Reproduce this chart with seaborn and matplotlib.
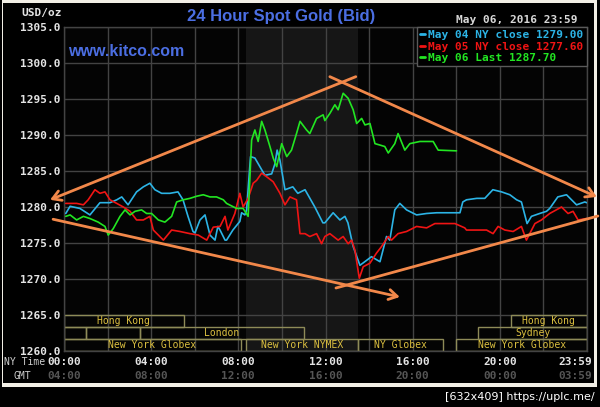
import matplotlib
matplotlib.use("Agg")
import matplotlib.pyplot as plt
import matplotlib.transforms as mtransforms
from matplotlib.patches import Rectangle
from matplotlib.ticker import MultipleLocator, FormatStrFormatter
import numpy as np
import pandas as pd
import seaborn as sns

# --- price series (hour of NY day, USD/oz) ---
may04_hours = [0.08, 0.28, 0.73, 1.19, 1.65, 2.11, 2.42, 2.65, 2.94, 3.33, 3.64, 3.94, 4.17, 4.48,
               4.86, 5.23, 5.46, 5.69, 5.92, 6.01, 6.24, 6.47, 6.70, 6.93, 7.06, 7.16, 7.39, 7.46,
               7.75, 8.07, 8.15, 8.30, 8.38, 8.56, 8.76, 8.99, 9.22, 9.53, 9.68, 9.78, 9.91, 10.14,
               10.50, 10.73, 11.06, 11.51, 11.88, 11.97, 12.35, 12.66, 12.89, 13.03, 13.27, 13.58,
               13.89, 14.11, 14.50, 14.80, 14.95, 15.18, 15.41, 15.72, 16.18, 16.64, 17.10, 18.17,
               18.30, 18.47, 18.94, 19.31, 19.68, 20.08, 20.46, 20.77, 20.99, 21.25, 21.45, 21.83,
               22.14, 22.29, 22.66, 23.06, 23.29, 23.52, 23.90, 23.98]
may04_price = [1279.1, 1280.1, 1279.8, 1278.9, 1280.6, 1280.6, 1281.0, 1281.4, 1280.3, 1282.1, 1282.8,
               1283.3, 1282.4, 1281.9, 1281.9, 1282.1, 1281.0, 1278.7, 1276.6, 1276.4, 1278.2, 1278.9,
               1276.1, 1275.4, 1277.3, 1276.8, 1275.4, 1275.4, 1276.8, 1278.0, 1279.2, 1278.9, 1279.6,
               1287.0, 1286.8, 1285.6, 1284.4, 1284.6, 1286.0, 1287.9, 1286.5, 1282.4, 1282.8, 1281.9,
               1282.4, 1280.0, 1277.8, 1277.8, 1279.2, 1278.2, 1278.7, 1277.8, 1274.5, 1271.9, 1272.6,
               1273.1, 1272.4, 1275.9, 1275.4, 1279.6, 1280.5, 1279.6, 1278.9, 1279.1, 1279.2, 1279.2,
               1280.7, 1281.0, 1281.2, 1281.2, 1282.4, 1282.1, 1281.7, 1281.0, 1280.7, 1277.7, 1278.7,
               1279.1, 1279.4, 1279.8, 1281.4, 1281.7, 1281.0, 1280.3, 1280.7, 1280.6]

may05_hours = [0.08, 0.58, 0.89, 1.11, 1.42, 1.65, 1.88, 2.11, 2.42, 2.72, 3.03, 3.33, 3.64, 3.94,
               4.10, 4.56, 4.94, 5.32, 5.78, 6.16, 6.55, 6.85, 7.16, 7.39, 7.52, 7.84, 8.07, 8.22,
               8.45, 8.68, 8.84, 9.07, 9.30, 9.60, 9.91, 10.14, 10.37, 10.67, 10.83, 11.06, 11.28,
               11.59, 11.82, 11.97, 12.20, 12.58, 12.81, 13.04, 13.20, 13.35, 13.55, 13.73, 14.04,
               14.34, 14.57, 14.88, 15.03, 15.33, 15.72, 16.18, 16.64, 17.02, 17.94, 18.39, 18.47,
               18.93, 19.39, 19.69, 19.92, 20.23, 20.61, 20.99, 21.22, 21.61, 21.91, 22.29, 22.83,
               23.13, 23.36, 23.59, 23.98]
may05_price = [1280.5, 1280.5, 1280.3, 1281.0, 1282.4, 1281.9, 1282.1, 1281.0, 1280.5, 1280.0, 1279.4,
               1278.2, 1278.2, 1278.7, 1276.8, 1275.4, 1276.8, 1276.6, 1276.3, 1276.1, 1275.4, 1277.2,
               1277.3, 1278.7, 1276.8, 1279.1, 1281.9, 1280.0, 1281.2, 1283.3, 1283.7, 1284.7, 1284.2,
               1283.5, 1281.9, 1280.3, 1281.4, 1281.0, 1276.3, 1276.3, 1275.9, 1276.3, 1274.9, 1275.9,
               1276.3, 1275.4, 1275.9, 1274.9, 1275.4, 1274.0, 1270.1, 1271.7, 1272.2, 1273.6, 1274.5,
               1275.9, 1275.4, 1276.3, 1276.6, 1277.3, 1277.1, 1277.7, 1277.7, 1277.1, 1276.8, 1276.8,
               1276.8, 1276.3, 1277.3, 1276.8, 1276.6, 1277.3, 1275.4, 1277.7, 1278.2, 1279.1, 1280.0,
               1279.1, 1279.4, 1278.2, 1278.4]

may06_hours = [0.08, 0.28, 0.58, 0.89, 1.19, 1.57, 1.88, 2.03, 2.26, 2.57, 2.80, 3.03, 3.26, 3.56,
               3.79, 4.02, 4.33, 4.63, 4.94, 5.17, 5.47, 5.78, 6.09, 6.39, 6.70, 7.00, 7.31, 7.46,
               7.92, 8.22, 8.45, 8.61, 8.76, 8.91, 9.07, 9.22, 9.45, 9.60, 9.76, 9.99, 10.22, 10.44,
               10.67, 10.83, 11.13, 11.28, 11.59, 11.89, 11.97, 12.20, 12.43, 12.58, 12.81, 13.04,
               13.27, 13.43, 13.66, 13.81, 14.04, 14.27, 14.50, 14.72, 14.88, 15.18, 15.33, 15.64,
               15.87, 16.33, 16.94, 17.17, 18.01]
may06_price = [1278.7, 1278.9, 1278.2, 1278.7, 1278.4, 1277.9, 1277.3, 1276.1, 1277.0, 1278.7, 1279.6,
               1278.9, 1279.4, 1279.6, 1279.1, 1279.1, 1278.2, 1277.9, 1278.7, 1280.7, 1281.0, 1281.2,
               1281.5, 1281.7, 1281.4, 1281.4, 1281.0, 1280.5, 1279.8, 1279.8, 1278.7, 1289.3, 1290.7,
               1289.1, 1291.9, 1290.7, 1288.4, 1286.8, 1285.6, 1288.8, 1287.0, 1287.9, 1290.2, 1291.9,
               1290.7, 1290.2, 1292.3, 1292.8, 1292.0, 1293.0, 1294.2, 1293.5, 1295.8, 1295.1, 1293.5,
               1291.6, 1292.3, 1291.4, 1291.6, 1288.8, 1288.6, 1288.4, 1287.5, 1288.8, 1290.2, 1287.9,
               1288.8, 1289.1, 1289.1, 1287.9, 1287.8]

series_labels = ["May 04 NY close 1279.00", "May 05 NY close 1277.60", "May 06 Last 1287.70"]
series_colors = ["#2cb4e6", "#f01414", "#22e622"]

# --- trading sessions (row 0 = top) ---
session_row = [0, 0, 1, 1, 1, 1, 2, 2, 2, 2]
session_start = [0, 20.5, 0, 1, 3.5, 19, 0, 8.33, 13.5, 18]
session_end = [5.5, 24, 1, 3.5, 11, 24, 8.1, 13.5, 17.4, 24]
session_name = ["Hong Kong", "Hong Kong", "", "", "London", "Sydney",
                "New York Globex", "New York NYMEX", "NY Globex", "New York Globex"]
nymex_open, nymex_close = 8.33, 13.5

# --- hand-drawn trend lines: (start hour, start price, end hour, end price, arrow) ---
trend_start_x = [13.39, 12.20, -0.50, 12.48]
trend_start_y = [1298.1, 1298.1, 1278.3, 1268.75]
trend_end_x = [-0.64, 24.45, 15.41, 24.50]
trend_end_y = [1281.0, 1281.4, 1267.5, 1278.75]
trend_arrow = [True, True, True, False]

tick_hours = [0, 4, 8, 12, 16, 20, 24]
ny_labels = ["00:00", "04:00", "08:00", "12:00", "16:00", "20:00", "23:59"]
gmt_labels = ["04:00", "08:00", "12:00", "16:00", "20:00", "00:00", "03:59"]

W, H = 600, 407
MONO = "DejaVu Sans Mono"
GRID = "#434343"

sns.set_theme(style="dark")
plt.rcParams["font.family"] = ["DejaVu Sans"]

fig = plt.figure(figsize=(6, 4.07), dpi=100, facecolor="black")
fig.patches.append(Rectangle((2 / W, 1 - 387 / H), 595 / W, 387 / H, transform=fig.transFigure,
                             facecolor="#f2efe6", edgecolor="none", zorder=-3))
fig.patches.append(Rectangle((3 / W, 1 - 383 / H), 591 / W, 380 / H, transform=fig.transFigure,
                             facecolor="black", edgecolor="none", zorder=-2))

ax = fig.add_axes([64 / W, 1 - 351 / H, 523 / W, 324 / H])
ax.set_facecolor("#040404")
ax.axvspan(nymex_open, nymex_close, color="#161616", zorder=0, lw=0)

frames = []
for lab, hrs, prc in zip(series_labels, [may04_hours, may05_hours, may06_hours],
                         [may04_price, may05_price, may06_price]):
    frames.append(pd.DataFrame({"hour": hrs, "price": prc, "series": lab}))
df = pd.concat(frames, ignore_index=True)

sns.lineplot(data=df, x="hour", y="price", hue="series", hue_order=series_labels,
             palette=dict(zip(series_labels, series_colors)), estimator=None, sort=False,
             linewidth=1.2, ax=ax, zorder=3)

ax.set_xlim(0, 24)
ax.set_ylim(1260, 1305)
ax.set_xlabel("")
ax.set_ylabel("")

ax.xaxis.set_major_locator(MultipleLocator(4))
ax.xaxis.set_minor_locator(MultipleLocator(2))
ax.yaxis.set_major_locator(MultipleLocator(5))
ax.yaxis.set_major_formatter(FormatStrFormatter("%.1f"))
ax.grid(which="both", color=GRID, linewidth=1.0, zorder=1)
ax.set_axisbelow(True)
for sp in ax.spines.values():
    sp.set_color(GRID)
    sp.set_linewidth(1.0)

ax.set_xticks(tick_hours)
ax.set_xticklabels(ny_labels)
ax.tick_params(axis="both", which="both", length=0)
ax.tick_params(axis="y", pad=2.5, labelsize=8, labelcolor="#e4e4e4")
ax.tick_params(axis="x", pad=4, labelsize=8, labelcolor="#e4e4e4")
for lab in ax.get_xticklabels() + ax.get_yticklabels():
    lab.set_family(MONO)
    lab.set_weight("bold")
last = ax.xaxis.get_major_ticks()[-1].label1
last.set_transform(last.get_transform() + mtransforms.ScaledTranslation(-12 / 100, 0, fig.dpi_scale_trans))

# GMT row
xform = mtransforms.blended_transform_factory(ax.transData, ax.transAxes)
for i, (h, g) in enumerate(zip(tick_hours, gmt_labels)):
    t = ax.text(h, -25 / 324, g, transform=xform, ha="center", va="center", color="#555555",
                fontsize=8, family=MONO, weight="bold", clip_on=False)
    if i == len(tick_hours) - 1:
        t.set_transform(xform + mtransforms.ScaledTranslation(-12 / 100, 0, fig.dpi_scale_trans))

# session boxes
row_h = 5 / 3
for r, s, e, name in zip(session_row, session_start, session_end, session_name):
    y0 = 1265 - (r + 1) * row_h
    ax.add_patch(Rectangle((s, y0), e - s, row_h, facecolor="none", edgecolor="#8e8b58",
                           linewidth=1.0, zorder=2))
    if name:
        ax.text((s + e) / 2, y0 + row_h / 2, name, ha="center", va="center", color="#dcc040",
                fontsize=7, family=MONO, zorder=4)

# orange trend lines
for x0, y0, x1, y1, arr in zip(trend_start_x, trend_start_y, trend_end_x, trend_end_y, trend_arrow):
    ax.annotate("", xy=(x1, y1), xytext=(x0, y0), annotation_clip=False, zorder=6,
                arrowprops=dict(arrowstyle="->,head_length=0.5,head_width=0.3" if arr else "-",
                                color="#f2884a", lw=2.0, shrinkA=0, shrinkB=0, clip_on=False))

# legend box
handles, labels = ax.get_legend_handles_labels()
leg = ax.legend(handles, labels, loc="upper right", bbox_to_anchor=(1, 1), borderaxespad=0,
                frameon=True, fancybox=False, facecolor="black", edgecolor="#5a5a5a", framealpha=1,
                prop={"family": MONO, "weight": "bold", "size": 8}, labelcolor="linecolor",
                handlelength=0.45, handletextpad=0.3, labelspacing=0.12, borderpad=0.3)
leg.get_frame().set_linewidth(1.0)
leg.set_zorder(7)
for ln in leg.get_lines():
    ln.set_linewidth(2.0)

# header texts
fig.text(281 / W, 1 - 16 / H, "24 Hour Spot Gold (Bid)", ha="center", va="center",
         color="#4b6ee2", fontsize=12, family="Liberation Sans", weight="bold")
fig.text(68 / W, 1 - 52 / H, "www.kitco.com", ha="left", va="center",
         color="#4b6ee2", fontsize=11.5, family="Liberation Sans", weight="bold")
fig.text(42 / W, 1 - 13 / H, "USD/oz", ha="center", va="center", color="#e4e4e4",
         fontsize=8, family=MONO, weight="bold")
fig.text(577 / W, 1 - 20 / H, "May 06, 2016 23:59", ha="right", va="center", color="#d8d8d8",
         fontsize=8, family=MONO, weight="bold")
fig.text(45 / W, 1 - 362 / H, "NY Time", ha="right", va="center", color="#d0d0d0",
         fontsize=7, family=MONO)
fig.text(22 / W, 1 - 376 / H, "GMT", ha="center", va="center", color="#d0d0d0",
         fontsize=7, family=MONO)
fig.text(595 / W, 1 - 397 / H, "[632x409] https://uplc.me/", ha="right", va="center",
         color="white", fontsize=8)

fig.savefig("out.png", dpi=100, facecolor="black")
